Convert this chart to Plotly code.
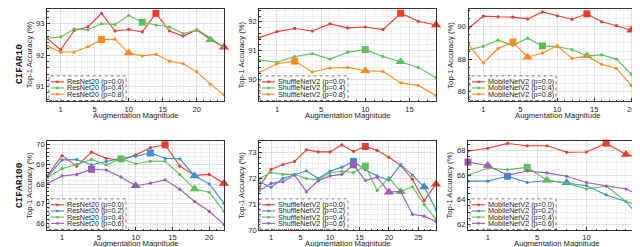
import plotly.graph_objects as go

W, H = 640, 247
FONT = "Liberation Sans, Arial, sans-serif"

RED = "#F03A30"
BLUE = "#3A8DD1"
GREEN = "#5CBF5C"
ORANGE = "#FF8A1C"
PURPLE = "#9B5CB4"

# ---------------- data ----------------
# CIFAR10 / ResNet20
a_mags = [0, 1, 2, 4, 6, 8, 10, 12, 14, 16, 18, 20, 22, 24]
a_p00 = [92.54, 92.17, 92.79, 92.90, 93.33, 92.77, 92.82, 92.74, 93.33, 92.77, 92.61, 92.81, 92.54, 92.25]
a_p04 = [92.54, 92.58, 92.83, 92.81, 93.00, 92.98, 93.27, 93.05, 92.96, 92.90, 92.69, 92.79, 92.49, 92.25]
a_p08 = [92.29, 92.10, 92.10, 92.27, 92.50, 92.51, 92.07, 91.98, 92.03, 91.81, 91.73, 91.47, 91.08, 90.74]

# CIFAR10 / ShuffleNetV2
b_mags = [0, 1, 2, 4, 6, 8, 10, 12, 14, 16, 18]
b_p00 = [91.45, 91.66, 91.77, 91.68, 91.93, 91.79, 91.82, 91.73, 92.30, 92.02, 91.89]
b_p04 = [90.67, 90.59, 90.79, 90.89, 90.70, 90.94, 91.03, 90.79, 90.61, 90.41, 90.05]
b_p08 = [90.23, 90.54, 90.63, 90.25, 90.39, 90.41, 90.29, 90.27, 89.87, 89.78, 89.43]

# CIFAR10 / MobileNetV2
c_mags = [0, 1, 2, 4, 6, 8, 10, 12, 14, 16, 18, 20, 22]
c_p00 = [89.90, 90.65, 90.61, 90.59, 90.48, 90.91, 90.67, 90.46, 90.79, 90.30, 90.06, 89.78, 89.82]
c_p04 = [88.57, 88.79, 89.17, 88.85, 89.29, 88.81, 88.77, 88.59, 88.20, 88.26, 88.00, 87.07, 85.70]
c_p08 = [88.89, 87.76, 88.65, 89.05, 88.12, 88.38, 88.81, 88.04, 88.18, 87.68, 87.43, 86.38, 86.48]

# CIFAR100 / ResNet20
d_mags = [0, 1, 2, 4, 6, 8, 10, 12, 14, 16, 18, 20, 22]
d_p00 = [68.41, 69.45, 68.91, 69.62, 69.31, 69.20, 69.48, 69.85, 70.00, 68.91, 68.44, 68.49, 68.03]
d_p02 = [68.36, 69.23, 69.25, 68.98, 69.15, 69.31, 69.41, 69.58, 69.31, 69.28, 68.41, 68.01, 67.02]
d_p04 = [68.33, 68.78, 69.00, 69.25, 68.98, 69.28, 69.03, 69.16, 69.16, 68.49, 67.74, 67.58, 66.61]
d_p06 = [68.03, 68.41, 68.49, 68.75, 68.71, 68.36, 67.91, 68.04, 68.21, 67.73, 67.11, 66.61, 65.94]

# CIFAR100 / ShuffleNetV2
e_mags = [0, 1, 2, 4, 6, 8, 10, 12, 14, 16, 18, 20, 22, 24, 26, 28]
e_p00 = [71.68, 72.35, 72.54, 72.66, 73.11, 73.03, 73.03, 73.30, 73.05, 73.24, 73.09, 72.82, 72.51, 71.97, 71.14, 71.78]
e_p02 = [71.87, 71.66, 72.00, 72.15, 72.30, 72.00, 72.28, 72.44, 72.66, 72.34, 72.10, 71.94, 72.54, 72.13, 71.67, 70.80]
e_p04 = [72.00, 72.23, 72.16, 72.16, 72.00, 71.94, 72.22, 72.28, 72.23, 72.48, 71.53, 72.03, 71.49, 71.68, 70.99, 70.42]
e_p06 = [71.52, 71.81, 71.87, 72.13, 71.49, 71.91, 72.10, 72.16, 72.53, 71.92, 72.05, 71.47, 71.50, 70.61, 70.54, 70.33]

# CIFAR100 / MobileNetV2
f_mags = [0, 1, 2, 4, 6, 8, 10, 12, 14, 16]
f_p00 = [67.97, 68.19, 68.59, 68.40, 68.40, 67.87, 67.89, 68.61, 67.68, 67.39]
f_p02 = [65.52, 65.52, 65.92, 65.41, 65.57, 65.39, 65.15, 64.40, 63.87, 62.00]
f_p04 = [66.00, 66.59, 66.45, 66.64, 65.60, 65.36, 64.88, 65.12, 63.87, 63.28]
f_p06 = [67.07, 66.80, 66.00, 66.35, 66.19, 65.92, 65.41, 65.12, 64.88, 64.19]

# highlighted magnitudes (square, triangle) per series
a_marks = [(14, 24), (12, 22), (6, 10)]
b_marks = [(14, 18), (10, 14), (2, 10)]
c_marks = [(14, 20), (8, 14), (4, 6)]
d_marks = [(14, 22), (12, 18), (8, 18), (4, 10)]
e_marks = [(16, 28), (14, 26), (16, 22), (14, 20)]
f_marks = [(12, 14), (2, 8), (4, 6), (0, 1)]

p3 = ["0.0", "0.4", "0.8"]
p4 = ["0.0", "0.2", "0.4", "0.6"]
col3 = [RED, GREEN, ORANGE]
col4 = [RED, BLUE, GREEN, PURPLE]

x_ticks_a = [1, 5, 10, 15, 20]
x_ticks_b = [1, 5, 10, 15]
x_ticks_e = [1, 5, 10, 15, 20, 25]

panels = [
    dict(model="ResNet20", mags=a_mags, series=[a_p00, a_p04, a_p08], ps=p3, cols=col3, marks=a_marks,
         dom=(39, 1, 216, 95), yr=(90.53, 93.47), ydt=1, ymin=0.2, xt=x_ticks_a,
         leg=(41, 69, 118, 94), tgap=14.5),
    dict(model="ShuffleNetV2", mags=b_mags, series=[b_p00, b_p04, b_p08], ps=p3, cols=col3, marks=b_marks,
         dom=(251.3, 1, 428, 95), yr=(89.22, 92.45), ydt=1, ymin=0.2, xt=x_ticks_b,
         leg=(252, 69, 340, 94), tgap=14.5),
    dict(model="MobileNetV2", mags=c_mags, series=[c_p00, c_p04, c_p08], ps=p3, cols=col3, marks=c_marks,
         dom=(460.5, 1, 638, 95), yr=(85.39, 91.09), ydt=2, ymin=0.5, xt=x_ticks_a,
         leg=(462, 69, 548, 94), tgap=14.5),
    dict(model="ResNet20", mags=d_mags, series=[d_p00, d_p02, d_p04, d_p06], ps=p4, cols=col4, marks=d_marks,
         dom=(39.3, 135, 216, 226), yr=(65.64, 70.2), ydt=1, ymin=0.2, xt=x_ticks_a,
         leg=(41, 194, 118, 225), tgap=13.5),
    dict(model="ShuffleNetV2", mags=e_mags, series=[e_p00, e_p02, e_p04, e_p06], ps=p4, cols=col4, marks=e_marks,
         dom=(251.3, 135, 428, 226), yr=(69.99, 73.46), ydt=1, ymin=0.2, xt=x_ticks_e,
         leg=(252, 194, 340, 225), tgap=13.5),
    dict(model="MobileNetV2", mags=f_mags, series=[f_p00, f_p02, f_p04, f_p06], ps=p4, cols=col4, marks=f_marks,
         dom=(460, 135, 637.7, 226), yr=(61.52, 68.8), ydt=2, ymin=0.5, xt=x_ticks_b,
         leg=(462, 194, 548, 225), tgap=13.5),
]


def pos(m):
    return m if m <= 2 else m / 2 + 1


def px(x):
    return x / W


def py(y):
    return 1 - y / H


fig = go.Figure()
shapes = []
annotations = []
layout = dict(width=W, height=H, margin=dict(l=0, r=0, t=0, b=0), showlegend=False,
              paper_bgcolor="white", plot_bgcolor="white",
              font=dict(family=FONT, size=7.5, color="#222"))

for k, P in enumerate(panels, start=1):
    xa, ya = f"x{k}", f"y{k}"
    xs = [pos(m) for m in P["mags"]]
    for vals, p, col, (msq, mtr) in zip(P["series"], P["ps"], P["cols"], P["marks"]):
        fig.add_trace(go.Scatter(x=xs, y=vals, xaxis=xa, yaxis=ya, mode="lines+markers",
                                 line=dict(color=col, width=1.1),
                                 marker=dict(symbol="circle", size=3.2, color=col),
                                 name=f"{P['model']} (p={p})"))
        i_sq = P["mags"].index(msq)
        i_tr = P["mags"].index(mtr)
        fig.add_trace(go.Scatter(x=[xs[i_sq]], y=[vals[i_sq]], xaxis=xa, yaxis=ya, mode="markers",
                                 marker=dict(symbol="square", size=7, color=col), cliponaxis=False))
        fig.add_trace(go.Scatter(x=[xs[i_tr]], y=[vals[i_tr]], xaxis=xa, yaxis=ya, mode="markers",
                                 marker=dict(symbol="triangle-up", size=9, color=col), cliponaxis=False))

    x0, y0, x1, y1 = P["dom"]
    axis_common = dict(showline=True, mirror=True, linecolor="#333", linewidth=1.2,
                       ticks="inside", ticklen=3, tickcolor="#333", tickwidth=0.8,
                       showgrid=True, gridcolor="#e0e0e0", gridwidth=0.8, zeroline=False,
                       tickfont=dict(size=7.5, family=FONT, color="#222"))
    layout[f"xaxis{k}"] = dict(axis_common, domain=[px(x0), px(x1)], anchor=ya,
                               range=[pos(P["mags"][0]), pos(P["mags"][-1])],
                               tickmode="array", tickvals=[pos(t) for t in P["xt"]],
                               ticktext=[str(t) for t in P["xt"]],
                               minor=dict(tick0=0, dtick=0.5, showgrid=True, gridcolor="#f0f0f0",
                                          ticks="inside", ticklen=1.5, tickcolor="#333"))
    layout[f"yaxis{k}"] = dict(axis_common, domain=[py(y1), py(y0)], anchor=xa,
                               range=list(P["yr"]), dtick=P["ydt"], tick0=0,
                               minor=dict(dtick=P["ymin"], showgrid=True, gridcolor="#f0f0f0",
                                          ticks="inside", ticklen=1.5, tickcolor="#333"))

    # axis titles
    annotations.append(dict(text="Augmentation Magnitude", xref="paper", yref="paper",
                            x=px((x0 + x1) / 2), y=py(y1 + P["tgap"]), showarrow=False, borderpad=0,
                            xanchor="center", yanchor="middle", font=dict(size=7.7, family=FONT, color="#222")))
    annotations.append(dict(text="Top-1 Accuracy (%)", xref="paper", yref="paper",
                            x=px(x0 - 18), y=py((y0 + y1) / 2), showarrow=False, textangle=-90,
                            xanchor="center", yanchor="middle", font=dict(size=7.7, family=FONT, color="#222")))

    # legend (drawn manually, compact)
    bx0, by0, bx1, by1 = P["leg"]
    shapes.append(dict(type="rect", xref="paper", yref="paper", x0=px(bx0), x1=px(bx1),
                       y0=py(by1), y1=py(by0), line=dict(color="#555", width=0.8, dash="dot"),
                       fillcolor="rgba(255,255,255,0.85)", layer="above"))
    for i, (p, col) in enumerate(zip(P["ps"], P["cols"])):
        ry = by0 + 6 + 6.3 * i
        shapes.append(dict(type="line", xref="paper", yref="paper", x0=px(bx0 + 2), x1=px(bx0 + 15),
                           y0=py(ry), y1=py(ry), line=dict(color=col, width=1.1), layer="above"))
        shapes.append(dict(type="rect", xref="paper", yref="paper", x0=px(bx0 + 7.3), x1=px(bx0 + 9.7),
                           y0=py(ry + 1.2), y1=py(ry - 1.2), line=dict(width=0), fillcolor=col, layer="above"))
        annotations.append(dict(text=f"{P['model']} (p={p})", xref="paper", yref="paper",
                                x=px(bx0 + 16.5), y=py(ry), showarrow=False, xanchor="left", yanchor="middle",
                                borderpad=0,
                                font=dict(size=7.2, family=FONT, color="#222")))

# row labels
annotations.append(dict(text="<b>CIFAR10</b>", xref="paper", yref="paper", x=px(11), y=py(57),
                        showarrow=False, textangle=-90, xanchor="center", yanchor="middle",
                        font=dict(size=9.5, family="Liberation Mono, Courier New, monospace", color="#222")))
annotations.append(dict(text="<b>CIFAR100</b>", xref="paper", yref="paper", x=px(11), y=py(180),
                        showarrow=False, textangle=-90, xanchor="center", yanchor="middle",
                        font=dict(size=9.5, family="Liberation Mono, Courier New, monospace", color="#222")))

layout["shapes"] = shapes
layout["annotations"] = annotations
fig.update_layout(**layout)
fig.write_html("out.html")
